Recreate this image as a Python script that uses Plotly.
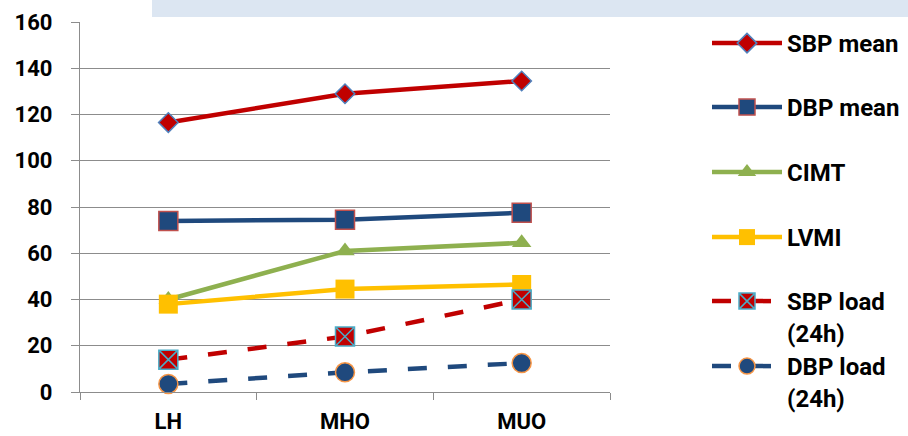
import plotly.graph_objects as go

groups = ["LH", "MHO", "MUO"]

sbp_mean = [116.5, 129.0, 134.5]
dbp_mean = [74.0, 74.5, 77.5]
cimt = [40.0, 61.0, 64.5]
lvmi = [38.0, 44.5, 46.5]
sbp_load = [14.0, 24.0, 40.0]
dbp_load = [3.5, 8.5, 12.5]

series_names = ["SBP mean", "DBP mean", "CIMT", "LVMI",
                "SBP load<br>(24h)", "DBP load<br>(24h)"]

FONT = "Roboto"
GRID = "#8c8c8c"

# plot area in pixels (used to place the legends and the header band)
L, R, T, B = 80, 610, 22, 392
W, H = 908, 436


def px_x(px):
    return (px - L) / (R - L)


def px_y(py):
    return (B - py) / (B - T)


styles = [
    dict(values=sbp_mean, color="#C00000", dash="solid",
         marker=dict(symbol="diamond", size=15, color="#C00000",
                     line=dict(color="#4F81BD", width=1.5))),
    dict(values=dbp_mean, color="#1F497D", dash="solid",
         marker=dict(symbol="square", size=19, color="#1F497D",
                     line=dict(color="#C0504D", width=1.5))),
    dict(values=cimt, color="#8EB04F", dash="solid",
         marker=dict(symbol="triangle-up", size=17, color="#8EB04F",
                     line=dict(width=0))),
    dict(values=lvmi, color="#FFC000", dash="solid",
         marker=dict(symbol="square", size=19, color="#FFC000",
                     line=dict(width=0))),
    dict(values=sbp_load, color="#C00000", dash="19px,21px",
         marker=dict(symbol="square-x", size=19, color="#C00000",
                     line=dict(color="#4BACC6", width=1.5))),
    dict(values=dbp_load, color="#1F497D", dash="19px,21px",
         marker=dict(symbol="circle", size=19, color="#1F497D",
                     line=dict(color="#F79646", width=1.5))),
]

# vertical pixel position of each legend entry's first text line
legend_rows = [43, 107, 172, 237, 301, 366]

fig = go.Figure()

for i, (name, st) in enumerate(zip(series_names, styles)):
    lg = "legend" if i == 0 else f"legend{i + 1}"
    fig.add_trace(go.Scatter(
        x=groups, y=st["values"], name=name, mode="lines+markers",
        line=dict(color=st["color"], width=4.5, dash=st["dash"]),
        marker=st["marker"], legend=lg, cliponaxis=False,
    ))

TICK_FONT = dict(family=FONT, size=22, color="#000000", weight=700)
LEGEND_FONT = dict(family=FONT, size=24, color="#000000", weight=700)

layout_legends = {}
for i, row in enumerate(legend_rows):
    key = "legend" if i == 0 else f"legend{i + 1}"
    layout_legends[key] = dict(
        x=px_x(707), xanchor="left",
        y=px_y(row - 22), yanchor="top",
        bgcolor="rgba(0,0,0,0)", borderwidth=0,
        font=LEGEND_FONT,
        itemwidth=70, valign="top", itemsizing="trace",
    )

fig.update_layout(
    width=W, height=H,
    margin=dict(l=L, r=W - R, t=T, b=H - B, pad=0, autoexpand=False),
    paper_bgcolor="white", plot_bgcolor="white",
    font=dict(family=FONT, size=22, color="#000000"),
    showlegend=True,
    **layout_legends,
)

fig.update_yaxes(
    range=[0, 160], dtick=20, tick0=0,
    showgrid=True, gridcolor=GRID, gridwidth=1.3,
    zeroline=False,
    showline=True, linecolor=GRID, linewidth=1.3,
    ticks="outside", ticklen=8, tickcolor=GRID, tickwidth=1.3,
    tickfont=TICK_FONT,
    ticklabelstandoff=14,
)

fig.update_xaxes(
    type="category", range=[-0.5, 2.5],
    showgrid=False, zeroline=False,
    showline=True, linecolor=GRID, linewidth=1.3,
    ticks="outside", tickson="boundaries", ticklen=7,
    tickcolor=GRID, tickwidth=1.3,
    tickfont=TICK_FONT,
    ticklabelstandoff=9,
)

# light header band across the top
fig.add_shape(
    type="rect", xref="paper", yref="paper",
    x0=px_x(152), x1=px_x(W), y0=px_y(17), y1=px_y(0),
    fillcolor="#DCE6F2", line=dict(width=0), layer="below",
)

fig.write_html("out.html")
